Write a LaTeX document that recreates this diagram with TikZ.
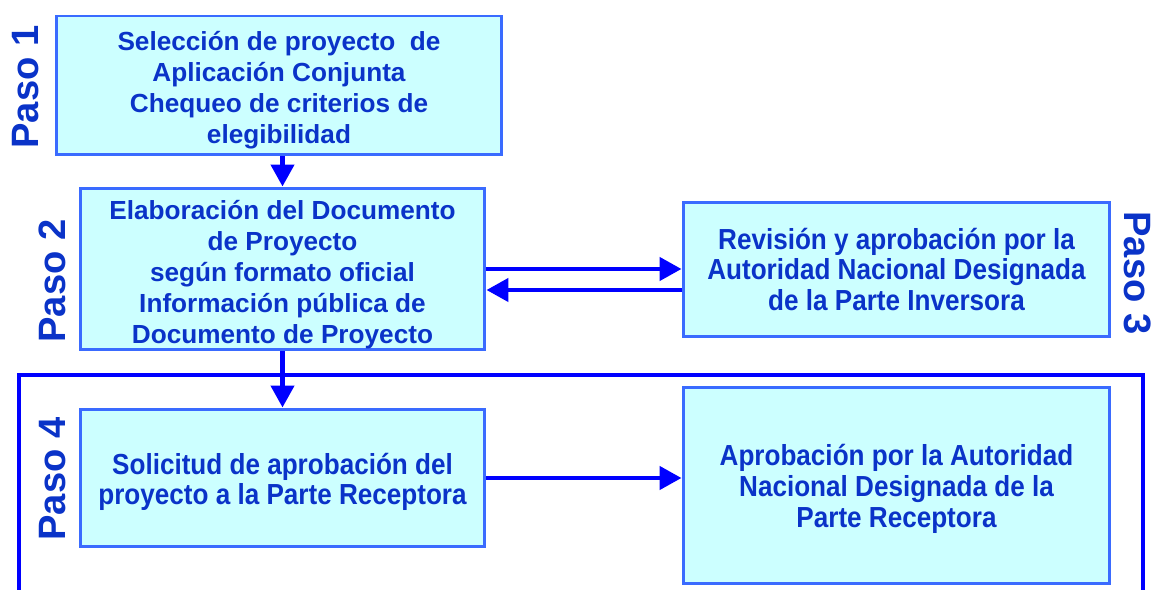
\documentclass[tikz,border=0pt]{standalone}
\usepackage{fontspec}
\setmainfont{Liberation Sans}
\newfontfamily\estrecha[FakeStretch=0.9]{Liberation Sans}
\usetikzlibrary{arrows.meta}
\definecolor{azultexto}{HTML}{0A33C8}
\definecolor{azulborde}{HTML}{3A6BFF}
\definecolor{celeste}{HTML}{CCFFFF}
\definecolor{azul}{HTML}{0000FF}
% puntal invisible para bajar el texto en la caja
\newcommand{\bajar}[1]{\rule{0pt}{#1}}

\begin{document}
\begin{tikzpicture}[
        x=0.02cm, y=-0.02cm,
        font=\bfseries,
        caja/.style={rectangle, draw=azulborde, fill=celeste, line width=1.7pt, align=center, text=azultexto, inner sep=0pt, font=\fontsize{14.9}{17.6}\selectfont\bfseries},
        cajae/.style={caja, font=\fontsize{16.5}{17.6}\selectfont\estrecha\bfseries},
        paso/.style={text=azultexto, inner sep=0pt, font=\fontsize{21.7}{25}\selectfont\bfseries},
        flecha/.style={draw=azul, line width=2.7pt, -{Triangle[length=12.5pt, width=13pt]}}
    ]
    \useasboundingbox (0,0) rectangle (1155,590);
    % Marco del paso 4 (abierto por abajo)
    \draw[azul, line width=2pt] (19,590) -- (19,375) -- (1143,375) -- (1143,590);
    % Paso 1
    \node[caja, minimum width=8.92cm, minimum height=2.78cm] (B1) at (279,85.5) {\bajar{16.2pt}Selección de proyecto \ de\\Aplicación Conjunta\\Chequeo de criterios de\\elegibilidad};
    \node[paso, rotate=90] (L1) at (26,87) {Paso 1};
    % Paso 2
    \node[caja, minimum width=8.10cm, minimum height=3.24cm] (B2) at (282.5,269) {\bajar{17.5pt}Elaboración del Documento\\de Proyecto\\según formato oficial\\Información pública de\\Documento de Proyecto};
    \node[paso, rotate=90] (L2) at (52,281) {Paso 2};
    % Paso 3
    \node[cajae, minimum width=8.54cm, minimum height=2.70cm] (B3) at (896.5,269.5) {Revisión y aprobación por la\\Autoridad Nacional Designada\\de la Parte Inversora};
    \node[paso, rotate=-90] (L3) at (1138,273) {Paso 3};
    % Paso 4
    \node[cajae, minimum width=8.10cm, minimum height=2.76cm] (B4) at (282.5,478) {\bajar{16.5pt}Solicitud de aprobación del\\proyecto a la Parte Receptora};
    \node[cajae, minimum width=8.54cm, minimum height=3.94cm] (B5) at (896.5,485.5) {\bajar{16.4pt}Aprobación por la Autoridad\\Nacional Designada de la\\Parte Receptora};
    \node[paso, rotate=90] (L4) at (53,479) {Paso 4};
    % Flechas
    \draw[flecha] (B1.south -| B2.north) -- (B2.north);
    \draw[flecha] (B2.east) -- (B2.east -| B3.west);
    \draw[flecha] (B3.west |- 0,290) -- (B2.east |- 0,290);
    \draw[flecha] (B2.south) -- (B4.north);
    \draw[flecha] (B4.east) -- (B4.east -| B5.west);
\end{tikzpicture}
\end{document}
